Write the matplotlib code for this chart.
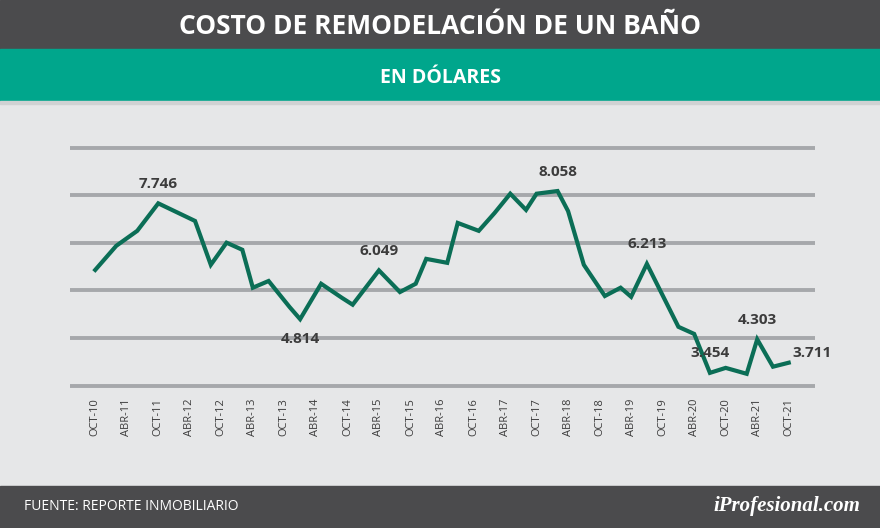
import matplotlib.pyplot as plt
from matplotlib.patches import Rectangle

W, H = 880, 528

# months since OCT-10 and cost in USD (thousands)
months = [0, 4, 8, 12, 19, 22, 25, 28, 30, 33, 37, 39, 43, 47, 49, 54, 58, 61, 63, 67,
          69, 73, 76, 79, 82, 84, 88, 90, 93, 97, 100, 102, 105, 111, 114, 117, 120, 124,
          126, 129, 132]
values = [6.06, 6.67, 7.05, 7.746, 7.30, 6.19, 6.75, 6.57, 5.61, 5.78, 5.12, 4.814, 5.71,
          5.35, 5.18, 6.049, 5.50, 5.71, 6.34, 6.24, 7.25, 7.05, 7.50, 7.99, 7.58, 7.99,
          8.058, 7.55, 6.19, 5.40, 5.61, 5.38, 6.213, 4.62, 4.44, 3.454, 3.58, 3.43, 4.303,
          3.61, 3.711]
labeled = {3: "above", 11: "below", 15: "above", 26: "above", 32: "above",
           35: "above", 38: "above", 40: "right"}
tick_labels = []
for year in range(10, 22):
    tick_labels.append(f"OCT-{year}")
    if year < 21:
        tick_labels.append(f"ABR-{year + 1}")
grid_values = [3.12, 4.33, 5.54, 6.75, 7.96, 9.15]

fig = plt.figure(figsize=(W / 100, H / 100), dpi=100)
fig.patch.set_facecolor("#e6e7e8")

def band(y0, y1, color):
    fig.patches.append(Rectangle((0, 1 - y1 / H), 1, (y1 - y0) / H,
                                 transform=fig.transFigure, color=color, zorder=0))

band(0, 49, "#4b4b4d")
band(49, 101, "#00a68c")
band(101, 104, "#d0d2d3")
band(486, 528, "#4b4b4d")

fig.text(0.5, 1 - 27 / H, "COSTO DE REMODELACIÓN DE UN BAÑO", color="white",
         fontsize=19, fontweight="bold", ha="center", va="center", family="Open Sans")
fig.text(0.5, 1 - 78 / H, "EN DÓLARES", color="white", fontsize=14,
         fontweight="bold", ha="center", va="center", family="Open Sans")
fig.text(24 / W, 1 - 506 / H, "FUENTE: REPORTE INMOBILIARIO", color="white",
         fontsize=10, ha="left", va="center", family="Open Sans")
fig.text(860 / W, 1 - 506 / H, "iProfesional.com", color="white", fontsize=15,
         fontweight="bold", style="italic", ha="right", va="center",
         family="Liberation Serif")

ax = fig.add_axes([70 / W, 1 - 390 / H, 745 / W, 250 / H])
ax.set_facecolor("none")
ax.set_ylim(3.02, 9.35)
ax.set_xlim(-4.8, 137)
for g in grid_values:
    ax.axhline(g, color="#a6a8ab", lw=2.8, zorder=1)
ax.plot(months, values, color="#0b6e56", lw=3, zorder=3, solid_joinstyle="miter")

for i, pos in labeled.items():
    txt = f"{values[i]:.3f}".replace(".", ".")
    if pos == "above":
        ax.annotate(txt, (months[i], values[i]), xytext=(0, 9), textcoords="offset points",
                    ha="center", va="bottom", fontsize=11, fontweight="bold", color="#3c3c3c",
                    family="Open Sans", zorder=4)
    elif pos == "below":
        ax.annotate(txt, (months[i], values[i]), xytext=(0, -9), textcoords="offset points",
                    ha="center", va="top", fontsize=11, fontweight="bold", color="#3c3c3c",
                    family="Open Sans", zorder=4)
    else:
        ax.annotate(txt, (months[i], values[i]), xytext=(3, 2), textcoords="offset points",
                    ha="left", va="bottom", fontsize=11, fontweight="bold", color="#3c3c3c",
                    family="Open Sans", zorder=4)

ax.set_xticks(range(0, 133, 6))
ax.set_xticklabels(tick_labels, rotation=90, fontsize=8, color="#3c3c3c", family="Open Sans")
ax.set_yticks([])
ax.tick_params(axis="x", length=0, pad=6)
for s in ax.spines.values():
    s.set_visible(False)

fig.savefig("out.png", dpi=100, facecolor=fig.get_facecolor())
